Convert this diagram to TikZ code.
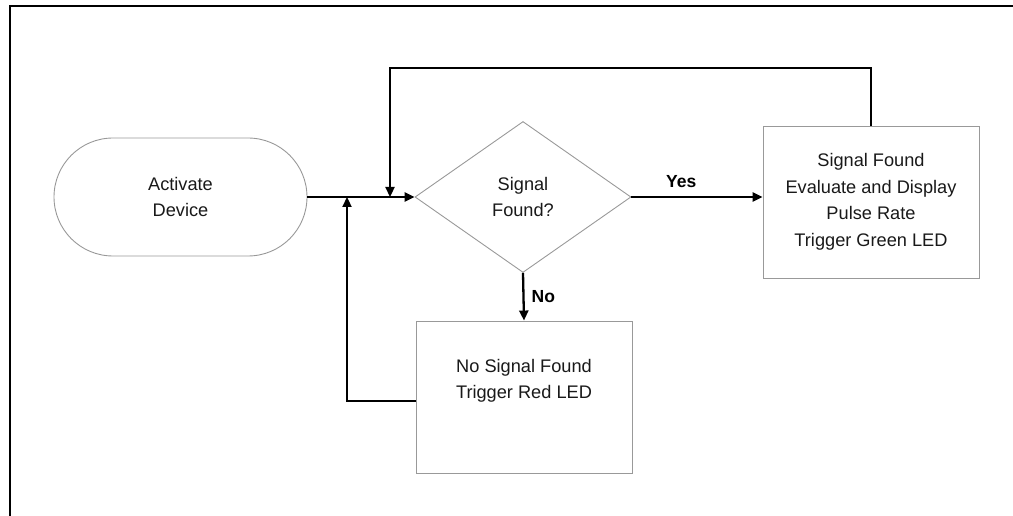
\documentclass[tikz,border=0pt]{standalone}
\usepackage{fontspec}
\setmainfont{Liberation Sans}
\usetikzlibrary{shapes.geometric,arrows.meta}
\begin{document}
\begin{tikzpicture}[x=1pt,y=-1pt,
  shapebox/.style={draw=black!40, line width=0.9pt, align=center, inner sep=0pt,
    font=\fontsize{18.2}{26.5}\selectfont, text=black!90},
  arr/.style={line width=2.3pt, -{Triangle[length=10pt,width=9pt]}},
  lbl/.style={font=\fontsize{17.5}{20}\selectfont\bfseries, inner sep=0pt}]
\useasboundingbox (0,0) rectangle (1013,516);
% frame
\draw[line width=2.6pt] (10,516) -- (10,6) -- (1013,6);
% nodes
\node[shapebox, rectangle, rounded corners=59pt, minimum width=253pt, minimum height=118pt] (act) at (180.5,197) {Activate\\Device};
\node[shapebox, diamond, minimum width=216pt, minimum height=151pt, shape aspect=1.43] (dec) at (523,197) {Signal\\Found?};
\node[shapebox, rectangle, minimum width=216pt, minimum height=152pt] (yesbox) at (871,202) {Signal Found\\Evaluate and Display\\Pulse Rate\\Trigger Green LED};
\node[shapebox, rectangle, minimum width=216pt, minimum height=152pt] (nobox) at (524,397) {No Signal Found\\Trigger Red LED\\[10pt]};
\coordinate (topL) at (390,68);
\coordinate (jn1) at (390,197);
\coordinate (jn2) at (347,197);
% connectors
\draw[arr] (act.east) -- (dec.west);
\draw[arr] (dec.east) -- node[lbl, pos=0.38, above=8pt] {Yes} (dec.east -| yesbox.west);
\draw[arr] (dec.south) -- node[lbl, right=7pt] {No} (nobox.north);
\draw[arr] (yesbox.north) |- (topL) -- (jn1);
\draw[arr] ([yshift=-4pt]nobox.west) -| (jn2);
\end{tikzpicture}
\end{document}
